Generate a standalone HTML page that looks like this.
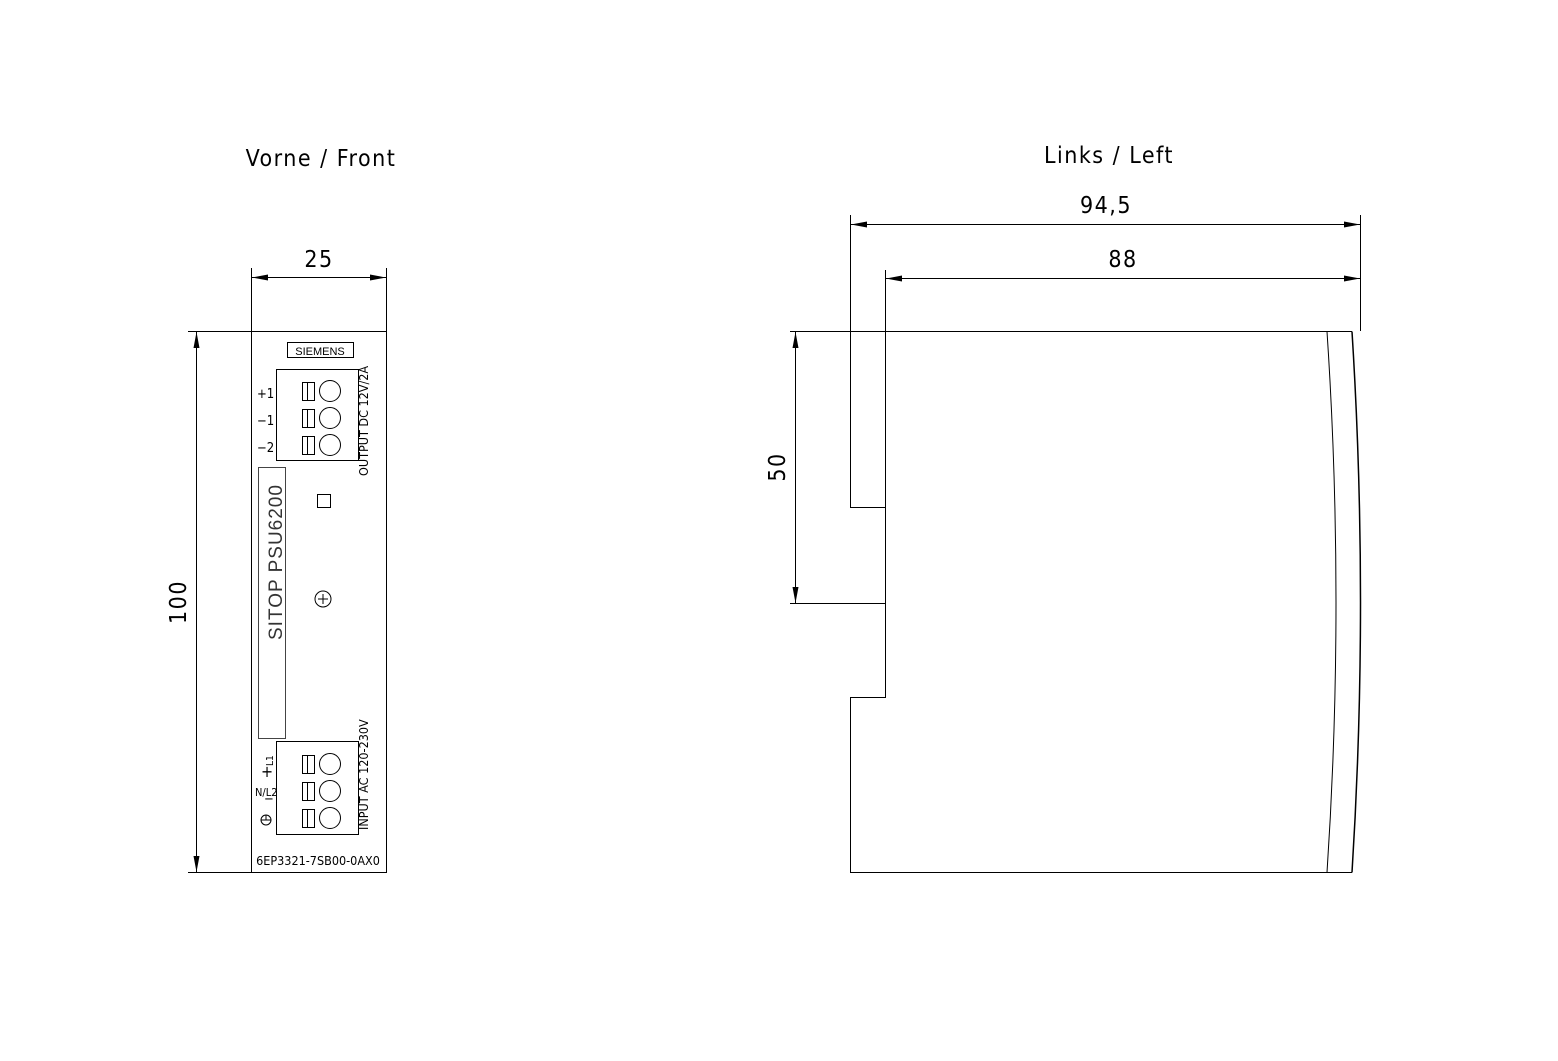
<!DOCTYPE html>
<html><head><style>body{margin:0;background:#fff}svg{display:block}</style></head><body>
<svg width="1558" height="1061" xmlns="http://www.w3.org/2000/svg" font-family="'DejaVu Sans Condensed','Liberation Sans',sans-serif">
<g stroke="#000" stroke-width="1" fill="none">
<rect x="251.5" y="331.5" width="135" height="541"/>
<line x1="251.5" y1="268" x2="251.5" y2="331"/><line x1="386.5" y1="268" x2="386.5" y2="331"/>
<line x1="252" y1="277.5" x2="386" y2="277.5"/>
<line x1="188" y1="331.5" x2="251" y2="331.5"/><line x1="188" y1="872.5" x2="251" y2="872.5"/>
<line x1="196.5" y1="332" x2="196.5" y2="872"/>
<rect x="287.5" y="342.5" width="66" height="15"/>
<rect x="276.5" y="369.5" width="82" height="91"/>
<rect x="276.5" y="741.5" width="82" height="93"/>
<rect x="258.5" y="467.5" width="27" height="271" stroke="#444"/>
<rect x="317.5" y="494.5" width="13" height="13"/>
<circle cx="323" cy="599" r="8"/><line x1="318" y1="599" x2="328" y2="599"/><line x1="323" y1="594" x2="323" y2="604"/>
<g id="t">
<rect x="302.5" y="382.5" width="12" height="18"/><line x1="307.5" y1="382.5" x2="307.5" y2="400.5"/><circle cx="330" cy="391" r="10.5"/>
</g>
<use href="#t" y="27"/><use href="#t" y="54"/>
<use href="#t" y="373"/><use href="#t" y="400"/><use href="#t" y="427"/>
<circle cx="266" cy="820" r="5"/><line x1="261" y1="820" x2="271" y2="820"/><line x1="266" y1="815" x2="266" y2="820"/>
<polyline points="790,331.5 1352,331.5"/>
<polyline points="850.5,331 850.5,507.5 885.5,507.5 885.5,697.5 850.5,697.5 850.5,872.5 1352,872.5"/>
<line x1="850.5" y1="215" x2="850.5" y2="331"/><line x1="885.5" y1="270" x2="885.5" y2="507"/>
<line x1="1360.5" y1="215" x2="1360.5" y2="331"/>
<line x1="851" y1="224.5" x2="1360" y2="224.5"/><line x1="886" y1="278.5" x2="1360" y2="278.5"/>
<line x1="790" y1="603.5" x2="885" y2="603.5"/>
<line x1="795.5" y1="332" x2="795.5" y2="603"/>
<path d="M1327,331.5 Q1345,602 1327,872.5"/>
<path d="M1352,331.5 Q1369,602 1352,872.5" stroke-width="1.5"/>
</g>
<g fill="#000">
<path d="M252,277.5 l16,-3 v6z M386,277.5 l-16,-3 v6z M196.5,332 l-3,16 h6z M196.5,872 l-3,-16 h6z"/>
<path d="M851,224.5 l16,-3 v6z M1360,224.5 l-16,-3 v6z M886,278.5 l16,-3 v6z M1360,278.5 l-16,-3 v6z M795.5,332 l-3,16 h6z M795.5,603 l-3,-16 h6z"/>
</g>
<g font-size="23" text-anchor="middle" letter-spacing="1.5">
<text x="321" y="166">Vorne / Front</text>
<text x="1109" y="163">Links / Left</text>
<text x="319" y="267">25</text>
<text x="1106" y="213">94,5</text>
<text x="1123" y="267">88</text>
<text transform="translate(186,602) rotate(-90)">100</text>
<text transform="translate(785,467) rotate(-90)">50</text>
</g>
<g font-size="13" font-family="'DejaVu Sans Condensed','Liberation Sans',sans-serif">
<text x="320" y="355" text-anchor="middle" font-size="11" font-family="'Liberation Sans',sans-serif">SIEMENS</text>
<text x="257" y="398">+1</text><text x="257" y="425">−1</text><text x="257" y="452">−2</text>
<text transform="translate(368,476) rotate(-90)" font-size="12.5">OUTPUT DC 12V/2A</text>
<text transform="translate(368,830) rotate(-90)" font-size="12.5">INPUT AC 120-230V</text>
<text transform="translate(282,640) rotate(-90)" font-size="19" fill="#333" font-family="'Liberation Sans',sans-serif" letter-spacing="1">SITOP  PSU6200</text>
<text transform="translate(273,766) rotate(-90)" font-size="10">L1</text><text x="261" y="777" font-size="16">+</text>
<text x="255" y="796" font-size="11">N/L2</text><text x="264" y="803">−</text>
<text x="318" y="865" text-anchor="middle" font-size="12.5">6EP3321-7SB00-0AX0</text>
</g>
</svg>
</body></html>
